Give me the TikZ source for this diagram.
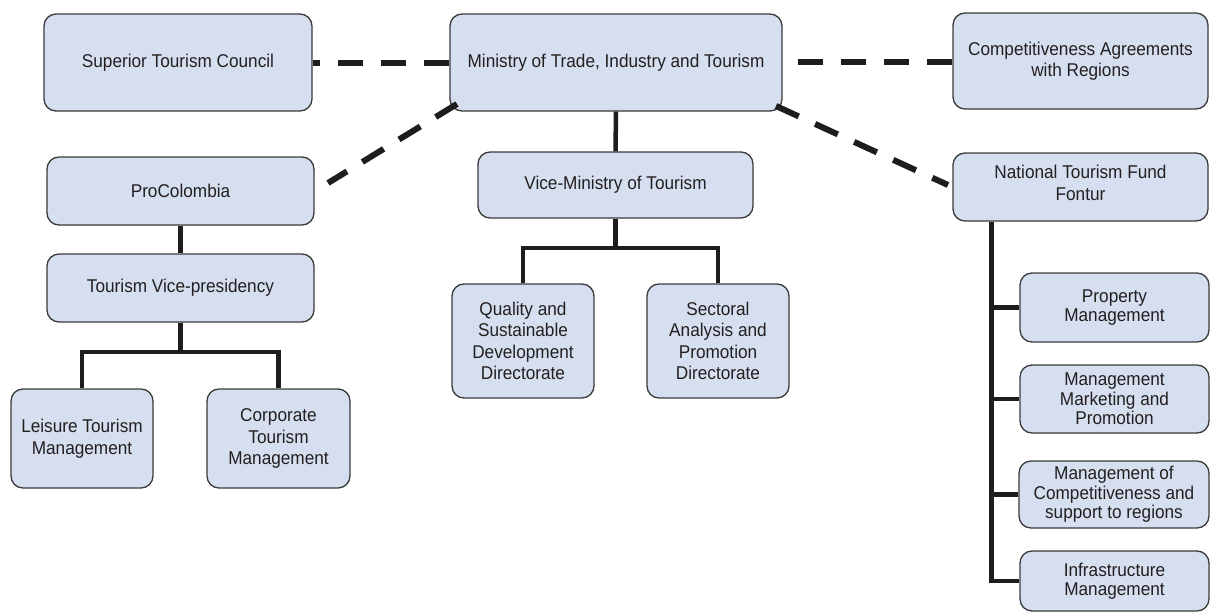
\documentclass[tikz,border=0pt]{standalone}
\usepackage{fontspec}
\setmainfont{Liberation Sans}[FakeStretch=0.93]
\usetikzlibrary{calc}
\definecolor{boxfill}{RGB}{214,223,240}
\definecolor{boxline}{RGB}{58,58,58}
\definecolor{txt}{RGB}{35,31,32}
\definecolor{conn}{RGB}{30,28,28}
\begin{document}
\begin{tikzpicture}[x=1pt,y=-1pt,
  orgbox/.style={draw=boxline, line width=1.3pt, fill=boxfill, rounded corners=12pt,
    inner sep=0pt, align=center, text=txt, font=\fontsize{18.5}{21.5}\selectfont},
  smallbox/.style={orgbox, font=\fontsize{18.5}{19.5}\selectfont},
  solidlink/.style={draw=conn, line width=4.5pt},
  dashlink/.style={draw=conn, line width=6pt, dash pattern=on 25pt off 18pt}]
\useasboundingbox (0,0) rectangle (1211,613);
% top row
\node[orgbox, minimum width=268pt, minimum height=97pt] (sup) at (178,62.5) {Superior Tourism Council};
\node[orgbox, minimum width=332pt, minimum height=97pt] (min) at (616,62.5) {Ministry of Trade, Industry and Tourism};
\node[orgbox, minimum width=255pt, minimum height=96pt] (comp) at (1080.5,61) {Competitiveness Agreements\\with Regions};
% second row
\node[orgbox, minimum width=267pt, minimum height=68pt] (pro) at (180.5,191) {ProColombia};
\node[orgbox, minimum width=275pt, minimum height=66pt] (vice) at (615.5,185) {Vice-Ministry of Tourism};
\node[orgbox, minimum width=255pt, minimum height=68pt, text depth=8pt] (ntf) at (1080.5,187) {National Tourism Fund\\Fontur};
% left branch
\node[orgbox, minimum width=267pt, minimum height=68pt] (tvp) at (180.5,288) {Tourism Vice-presidency};
\node[orgbox, minimum width=142pt, minimum height=99pt] (leis) at (82,438.5) {Leisure Tourism\\Management};
\node[orgbox, minimum width=143pt, minimum height=99pt] (corp) at (278.5,438.5) {Corporate\\Tourism\\Management};
% middle branch
\node[orgbox, minimum width=142pt, minimum height=114pt] (qual) at (523,341) {Quality and\\Sustainable\\Development\\Directorate};
\node[orgbox, minimum width=142pt, minimum height=114pt] (sect) at (718,341) {Sectoral\\Analysis and\\Promotion\\Directorate};
% right branch
\node[smallbox, minimum width=189pt, minimum height=69pt] (prop) at (1114.5,307.5) {Property\\Management};
\node[smallbox, minimum width=189pt, minimum height=68pt] (mkt) at (1114.5,399) {Management\\Marketing and\\Promotion};
\node[smallbox, minimum width=190pt, minimum height=67pt] (mcomp) at (1114,494.5) {Management of\\Competitiveness and\\support to regions};
\node[smallbox, minimum width=189pt, minimum height=60pt] (infra) at (1114.5,581) {Infrastructure\\Management};
% dashed links
\draw[dashlink] (min.west) -- (sup.east);
\draw[dashlink] (comp.west |- 0,62) -- (min.east |- 0,62);
\coordinate (dl1) at (457,104);
\coordinate (dl2) at (328,183);
\draw[dashlink] (dl1) -- (dl2);
\coordinate (dr1) at (776,106);
\coordinate (dr2) at (948,185);
\draw[dashlink] (dr1) -- (dr2);
% solid links
\draw[solidlink] (min.south) -- (vice.north);
\coordinate (busm) at (0,248);
\draw[solidlink] (vice.south) -- (vice.south |- busm);
\draw[solidlink] (qual.north) -- (qual.north |- busm) -- (sect.north |- busm) -- (sect.north);
\draw[solidlink] (pro.south) -- (tvp.north);
\coordinate (busl) at (0,352);
\draw[solidlink] (tvp.south) -- (tvp.south |- busl);
\draw[solidlink] (leis.north) -- (leis.north |- busl) -- (corp.north |- busl) -- (corp.north);
\coordinate (ftop) at ($(ntf.south west)+(39,0)$);
\draw[solidlink] (ftop) |- (infra.west);
\draw[solidlink] (ftop |- prop.west) -- (prop.west);
\draw[solidlink] (ftop |- mkt.west) -- (mkt.west);
\draw[solidlink] (ftop |- mcomp.west) -- (mcomp.west);
\end{tikzpicture}
\end{document}
